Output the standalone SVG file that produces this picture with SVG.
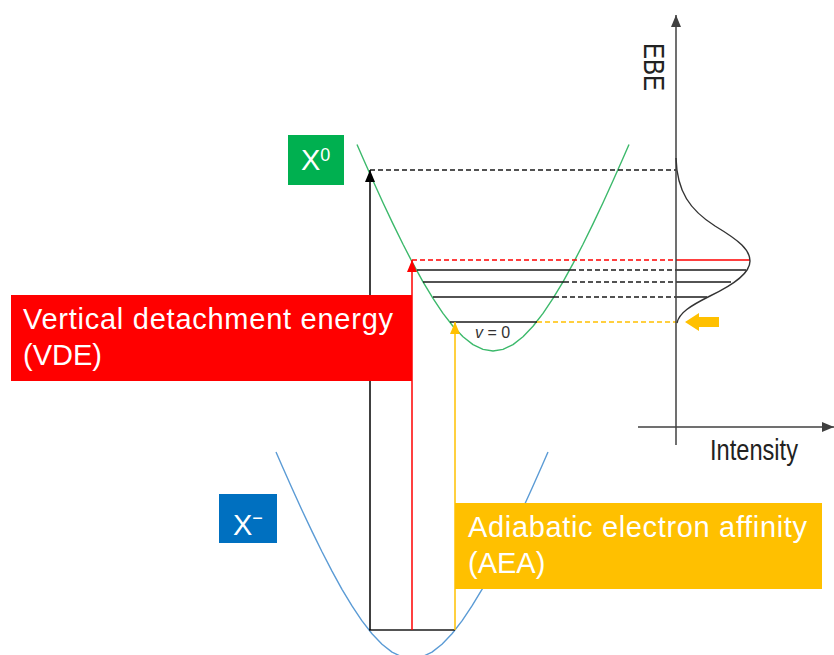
<svg xmlns="http://www.w3.org/2000/svg" width="834" height="655" viewBox="0 0 834 655">
<defs>
<style>
.lbl{font-family:"Liberation Sans",Arial,sans-serif;fill:#fff;font-size:29px}
.ax{font-family:"Liberation Sans",Arial,sans-serif;fill:#222;font-size:29px}
.curveG{fill:none;stroke:#3cb96b;stroke-width:1.4;stroke-linejoin:round}
.curveB{fill:none;stroke:#5b9bd5;stroke-width:1.4;stroke-linejoin:round}
.solid{stroke:#1a1a1a;stroke-width:1.5;fill:none}
.dash{stroke:#1a1a1a;stroke-width:1.4;stroke-dasharray:5,3;fill:none}
.axis{stroke:#404040;stroke-width:1.5;fill:none}
</style>
<marker id="ahK" markerUnits="userSpaceOnUse" markerWidth="12" markerHeight="10" refX="12" refY="5" orient="auto"><path d="M0,0 L12,5 L0,10 z" fill="#000"/></marker>
<marker id="ahR" markerUnits="userSpaceOnUse" markerWidth="12" markerHeight="10" refX="12" refY="5" orient="auto"><path d="M0,0 L12,5 L0,10 z" fill="#ff0000"/></marker>
<marker id="ahO" markerUnits="userSpaceOnUse" markerWidth="12" markerHeight="10" refX="12" refY="5" orient="auto"><path d="M0,0 L12,5 L0,10 z" fill="#ffc000"/></marker>
<marker id="ahA" markerUnits="userSpaceOnUse" markerWidth="12" markerHeight="10" refX="12" refY="5" orient="auto"><path d="M0,0 L12,5 L0,10 z" fill="#404040"/></marker>
</defs>
<rect width="834" height="655" fill="#fff"/>

<g id="anion-curve">
<polyline class="curveB" points="276,452 282,465.8 292,488.3 302,510.2 312,531.4 322,551.8 332,571.1 342,589.3 352,605.9 362,620.9 372,633.8 382,644.3 392,652.1 402,656.9 412,658.5 422,656.9 432,652.1 442,644.3 452,633.8 462,620.9 472,605.9 482,589.3 492,571.1 502,551.8 512,531.4 522,510.2 532,488.3 542,465.8 548,452"/>
</g>

<g id="neutral-curve">
<polyline class="curveG" points="357,144.5 363,158.3 373,180.8 383,202.7 393,223.9 403,244.3 413,263.6 423,281.8 433,298.4 443,313.4 453,326.3 463,336.8 473,344.6 483,349.4 493,351 503,349.4 513,344.6 523,336.8 533,326.3 543,313.4 553,298.4 563,281.8 573,263.6 583,244.3 593,223.9 603,202.7 613,180.8 623,158.3 629,144.5"/>
</g>

<g id="levels">
<line class="dash" x1="370" y1="170" x2="676" y2="170"/>
<line x1="412" y1="260" x2="676" y2="260" stroke="#ff0000" stroke-width="1.4" stroke-dasharray="5,3"/>
<line x1="676" y1="260" x2="750" y2="260" stroke="#ff0000" stroke-width="1.5"/>
<line class="solid" x1="417" y1="270" x2="571" y2="270"/>
<line class="dash" x1="571" y1="270" x2="676" y2="270"/>
<line class="solid" x1="676" y1="270" x2="746" y2="270"/>
<line class="solid" x1="423" y1="282" x2="564" y2="282"/>
<line class="dash" x1="564" y1="282" x2="676" y2="282"/>
<line class="solid" x1="676" y1="282" x2="731" y2="282"/>
<line class="solid" x1="433" y1="297" x2="554" y2="297"/>
<line class="dash" x1="554" y1="297" x2="676" y2="297"/>
<line class="solid" x1="676" y1="297" x2="707" y2="297"/>
<line class="solid" x1="450" y1="322" x2="537" y2="322"/>
<line x1="537" y1="322" x2="676" y2="322" stroke="#ffc000" stroke-width="1.4" stroke-dasharray="5,3"/>
<text x="475" y="338" font-family="'Liberation Sans',Arial,sans-serif" font-size="16" fill="#333"><tspan font-style="italic">v</tspan> = 0</text>
<line class="solid" x1="369" y1="630" x2="455" y2="630"/>
</g>

<g id="connectors">
<line x1="370" y1="630" x2="370" y2="170" stroke="#000" stroke-width="1.5" marker-end="url(#ahK)"/>
<line x1="412" y1="630" x2="412" y2="260" stroke="#ff0000" stroke-width="1.5" marker-end="url(#ahR)"/>
<line x1="455" y1="630" x2="455" y2="322" stroke="#ffc000" stroke-width="1.5" marker-end="url(#ahO)"/>
</g>

<g id="spectrum">
<line class="axis" x1="676" y1="445" x2="676" y2="15" marker-end="url(#ahA)"/>
<line class="axis" x1="638" y1="427" x2="834" y2="427" marker-end="url(#ahA)"/>
<path d="M676,158 C677,192 690,210 715,226 C740,241 750,250 750,261 C750,273 735,284 710,296 C690,306 679,313 677,323" fill="none" stroke="#333" stroke-width="1.4"/>
<path d="M685,322 L699,313 L699,317 L719,317 L719,327 L699,327 L699,331 z" fill="#ffc000"/>
<text class="ax" transform="translate(644,43) rotate(90)" textLength="48" lengthAdjust="spacingAndGlyphs">EBE</text>
<text class="ax" x="710" y="460" textLength="88" lengthAdjust="spacingAndGlyphs">Intensity</text>
</g>

<g id="node-X0">
<rect x="288" y="135" width="56" height="50" fill="#00b050"/>
<text class="lbl" x="301" y="170">X<tspan font-size="18" dy="-9">0</tspan></text>
</g>

<g id="node-Xminus">
<rect x="219" y="494" width="58" height="49" fill="#0070c0"/>
<text class="lbl" x="233" y="535">X<tspan font-size="18" dy="-11">−</tspan></text>
</g>

<g id="node-VDE">
<rect x="11" y="295" width="401" height="86" fill="#ff0000"/>
<text class="lbl" x="23" y="329" textLength="370" lengthAdjust="spacing">Vertical detachment energy</text>
<text class="lbl" x="23" y="365">(VDE)</text>
</g>

<g id="node-AEA">
<rect x="455" y="503" width="367" height="86" fill="#ffc000"/>
<text class="lbl" x="468" y="537" textLength="339" lengthAdjust="spacing">Adiabatic electron affinity</text>
<text class="lbl" x="468" y="573">(AEA)</text>
</g>
</svg>
